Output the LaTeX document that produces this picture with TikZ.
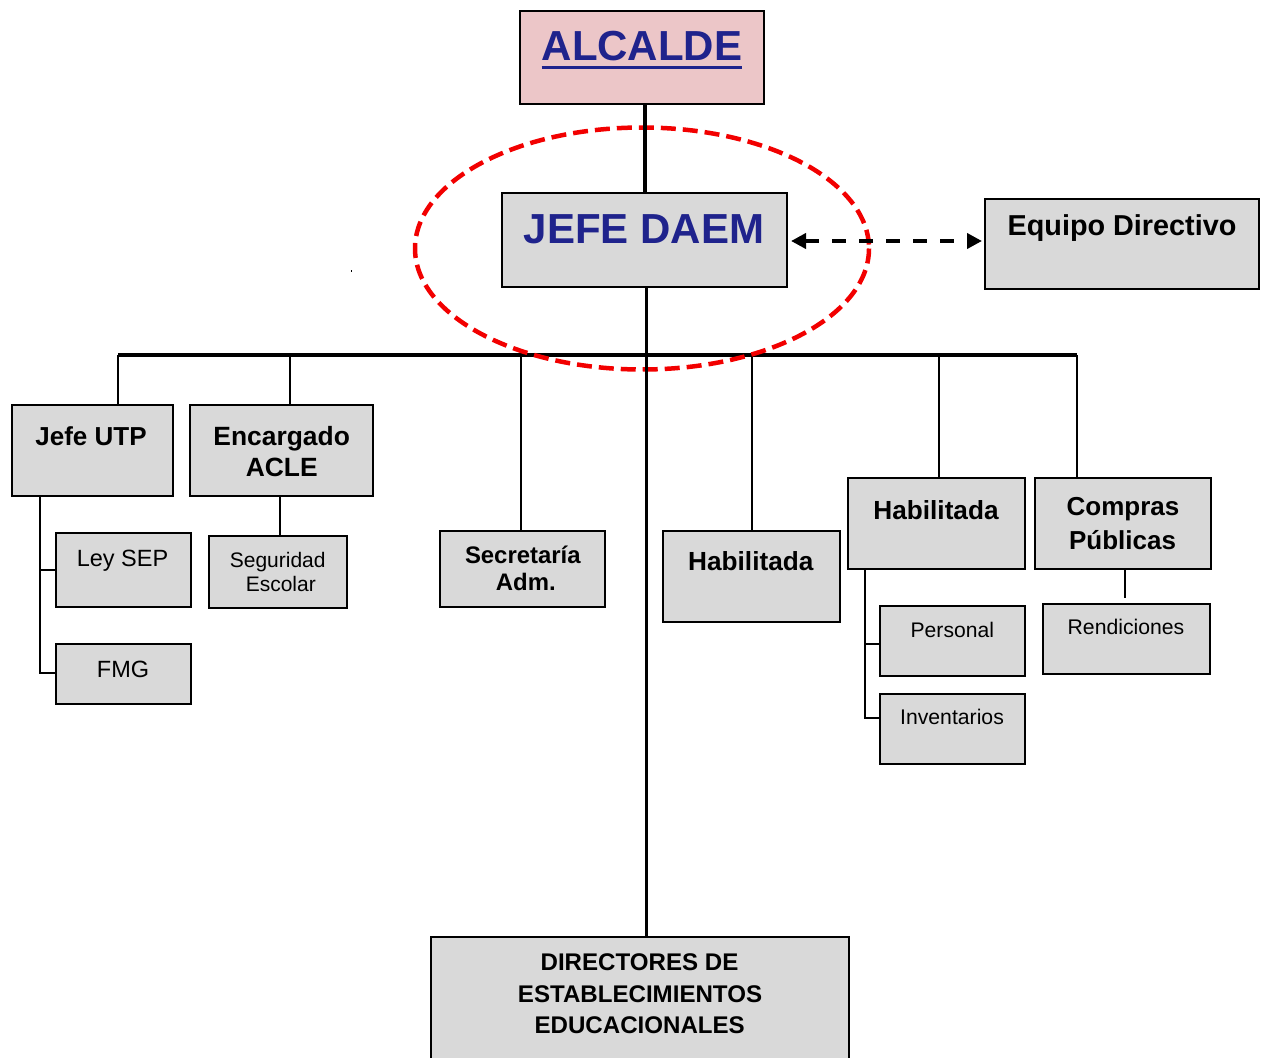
\documentclass[tikz,border=0pt]{standalone}
\usepackage{fontspec}
\setmainfont{Liberation Sans}
\usetikzlibrary{arrows.meta}
\definecolor{boxgray}{RGB}{217,217,217}
\definecolor{pinkfill}{RGB}{236,198,200}
\definecolor{navy}{RGB}{31,35,140}
\definecolor{ellred}{RGB}{242,0,0}
\newcommand\myfs[1]{\fontsize{#1}{#1}\selectfont}
\begin{document}
\begin{tikzpicture}[x=1pt,y=-1pt,
  box/.style={draw=black,line width=2pt,fill=boxgray,inner sep=0pt,outer sep=0pt},
  txt/.style={inner sep=0pt,outer sep=0pt,anchor=base},
  bt/.style={txt,font=\bfseries},
  conn/.style={line width=2pt},
  trunkline/.style={line width=3.8pt},
  dasharrow/.style={line width=4pt,dash pattern=on 14pt off 13pt,
     {Triangle[length=15pt,width=15pt]}-{Triangle[length=15pt,width=15pt]}},
  ellipseline/.style={draw=ellred,line width=4.5pt,dash pattern=on 15pt off 7pt}
  ]
\useasboundingbox (0,0) rectangle (1265,1057);
\clip (0,0) rectangle (1265,1057);

% boxes
\node[box,fill=pinkfill,minimum width=244,minimum height=93] (alc) at (642,57.5) {};
\node[box,minimum width=285,minimum height=94] (daem) at (644.5,240) {};
\node[box,minimum width=274,minimum height=90] (equipo) at (1122,244) {};
\node[box,minimum width=161,minimum height=90.5] (utp) at (92.5,450.25) {};
\node[box,minimum width=183,minimum height=90.5] (acle) at (281.5,450.25) {};
\node[box,minimum width=134.5,minimum height=74] (ley) at (123.25,570) {};
\node[box,minimum width=134.5,minimum height=60] (fmg) at (123.25,674) {};
\node[box,minimum width=138,minimum height=72] (seg) at (278,571.5) {};
\node[box,minimum width=165,minimum height=75.5] (sec) at (522.5,568.75) {};
\node[box,minimum width=177,minimum height=90.5] (hab1) at (751.5,576.25) {};
\node[box,minimum width=176.5,minimum height=91] (hab2) at (936.25,523.5) {};
\node[box,minimum width=175.5,minimum height=91] (comp) at (1122.75,523.5) {};
\node[box,minimum width=144.5,minimum height=69.5] (pers) at (952.25,640.75) {};
\node[box,minimum width=145,minimum height=70] (inv) at (952,728.5) {};
\node[box,minimum width=167,minimum height=69.5] (rend) at (1126.5,638.75) {};
\node[box,minimum width=418,minimum height=143] (dir) at (639.5,1008.5) {};

% texts
\node[bt,text=navy,font=\bfseries\myfs{42}] (alct) at (642,60) {ALCALDE};
\draw[navy,line width=3.5pt] ([yshift=-7.5pt]alct.base west) -- ([yshift=-7.5pt]alct.base east);
\node[bt,text=navy,font=\bfseries\myfs{42}] (daemt) at (644,243.5) {JEFE DAEM};
\node[bt,font=\bfseries\myfs{28.8}] (equipot) at (1122,235.5) {Equipo Directivo};
\node[bt,font=\bfseries\myfs{26}] (utpt) at (91,445) {Jefe UTP};
\node[bt,font=\bfseries\myfs{26.4}] (aclet1) at (281.7,445) {Encargado};
\node[bt,font=\bfseries\myfs{26.4}] (aclet2) at (281.7,476) {ACLE};
\node[txt,font=\myfs{23.5}] (leyt) at (122.5,566) {Ley SEP};
\node[txt,font=\myfs{23.5}] (fmgt) at (123,677) {FMG};
\node[txt,font=\myfs{21}] (segt1) at (277.7,567) {Seguridad};
\node[txt,font=\myfs{21}] (segt2) at (280.8,591.5) {Escolar};
\node[bt,font=\bfseries\myfs{23.9}] (sect1) at (522.8,563.5) {Secretaría};
\node[bt,font=\bfseries\myfs{23.9}] (sect2) at (525.8,590.7) {Adm.};
\node[bt,font=\bfseries\myfs{26.2}] (hab1t) at (750.8,570.7) {Habilitada};
\node[bt,font=\bfseries\myfs{26.2}] (hab2t) at (936,519) {Habilitada};
\node[bt,font=\bfseries\myfs{26}] (compt1) at (1123,515) {Compras};
\node[bt,font=\bfseries\myfs{26}] (compt2) at (1122.5,549) {Públicas};
\node[txt,font=\myfs{21.1}] (perst) at (952.3,637) {Personal};
\node[txt,font=\myfs{21.2}] (invt) at (952,724) {Inventarios};
\node[txt,font=\myfs{21.2}] (rendt) at (1126,634) {Rendiciones};
\node[bt,font=\bfseries\myfs{24.1}] (dirt1) at (639.5,970) {DIRECTORES DE};
\node[bt,font=\bfseries\myfs{24.1}] (dirt2) at (640,1002) {ESTABLECIMIENTOS};
\node[bt,font=\bfseries\myfs{24.1}] (dirt3) at (639.7,1033) {EDUCACIONALES};

% helper coordinates
\coordinate (bl) at (118,355);
\coordinate (br) at (1077,355);
\coordinate (tk) at (646.5,355);
\coordinate (d1) at (118,355);
\coordinate (d2) at (289.5,355);
\coordinate (d3) at (521,355);
\coordinate (d4) at (752,355);
\coordinate (d5) at (939,355);
\coordinate (d6) at (1077,355);
\coordinate (u1) at (40,570);
\coordinate (u2) at (40,673);
\coordinate (s1) at (280,500);
\coordinate (h1) at (865,644);
\coordinate (h2) at (865,718);
\coordinate (r1) at (1125,598);

% horizontal bar and drops
\draw[trunkline] (bl) -- (br);
\foreach \d/\b in {d1/utp,d2/acle,d3/sec,d4/hab1,d5/hab2,d6/comp}
  \draw[conn] (\d) -- (\d |- \b.north);

% red ellipse
\draw[ellipseline] (642,248.5) ellipse [x radius=227, y radius=121];

% main lines
\draw[line width=4pt] (alc.south -| daem.north) -- (daem.north);
\draw[trunkline] (daem.south -| tk) -- (dir.north -| tk);
\draw[dasharrow] ([xshift=4pt,yshift=-1pt]daem.east) -- ([xshift=-3pt]equipo.west |- 0,241);

% sub connectors
\draw[conn] (utp.south -| u1) -- (u2) -- (u2 -| fmg.west);
\draw[conn] (u1) -- (u1 -| ley.west);
\draw[conn] (acle.south -| s1) -- (seg.north -| s1);
\draw[conn] (hab2.south -| h1) -- (h2) -- (h2 -| inv.west);
\draw[conn] (h1) -- (h1 -| pers.west);
\draw[conn] (comp.south -| r1) -- (r1);

% tiny stray mark
\fill (350.5,270) rectangle (352,272);
\end{tikzpicture}
\end{document}
